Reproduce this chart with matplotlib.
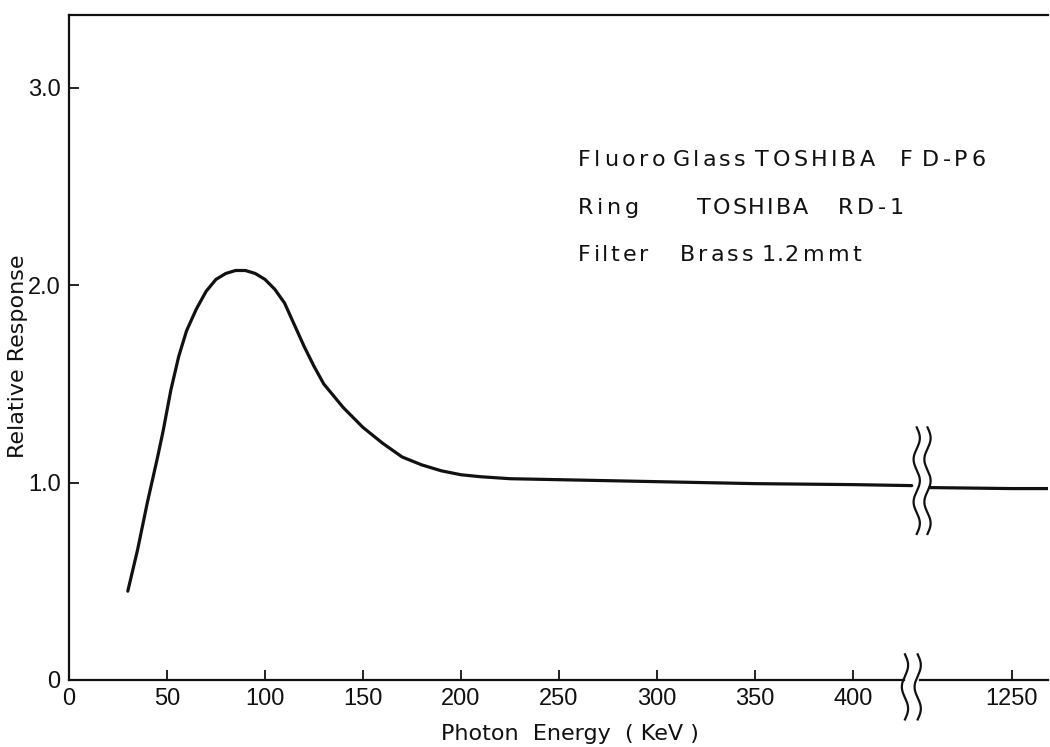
#!/usr/bin/env python

import matplotlib
matplotlib.use('Agg')

import matplotlib.pyplot as plt
import matplotlib.transforms as mtransforms
import numpy as np

########################################
# response curve #
########################################
energy_low = [30, 35, 40, 45, 48, 52, 56, 60, 65, 70, 75, 80, 85, 90, 95,
              100, 105, 110, 115, 120, 125, 130, 140, 150, 160, 170, 180,
              190, 200, 210, 225, 250, 300, 350, 400, 430]
response_low = [0.45, 0.66, 0.90, 1.12, 1.26, 1.47, 1.64, 1.77, 1.88, 1.97,
                2.03, 2.06, 2.075, 2.075, 2.06, 2.03, 1.98, 1.91, 1.80, 1.69,
                1.59, 1.50, 1.38, 1.28, 1.20, 1.13, 1.09, 1.06, 1.04, 1.03,
                1.02, 1.015, 1.005, 0.995, 0.99, 0.985]

# part beyond the axis break
energy_high = [525, 1250, 1571]
response_high = [0.975, 0.97, 0.97]

xticks = [0, 50, 100, 150, 200, 250, 300, 350, 400, 1250]
xticklabels = ['0', '50', '100', '150', '200', '250', '300', '350', '400', '1250']
yticks = [0, 1.0, 2.0, 3.0]
yticklabels = ['0', '1.0', '2.0', '3.0']

# detector description, word by word (lettering is widely spaced)
note_lines = [['Fluoro', 'Glass', 'TOSHIBA', 'F', 'D-P6'],
              ['Ring', 'TOSHIBA', 'RD-1'],
              ['Filter', 'Brass', '1.2', 'mmt']]

#################################################
# broken energy axis: linear up to BREAK, then  #
# the high energies are squeezed in behind it   #
#################################################
BREAK = 434.0
SHRINK = 0.0576

def fwd(e):
    e = np.asarray(e, dtype=float)
    return np.where(e <= BREAK, e, BREAK + (e - BREAK) * SHRINK)

def inv(d):
    d = np.asarray(d, dtype=float)
    return np.where(d <= BREAK, d, BREAK + (d - BREAK) / SHRINK)

W, H = 1050.0, 747.0
fig = plt.figure(figsize=(W / 100, H / 100), dpi=100)
ax = fig.add_axes([0.0657, 0.0897, 0.9323, 0.8903])
ax.set_xscale('function', functions=(fwd, inv))

ink = '#111111'
ax.plot(energy_low, response_low, '-', color=ink, lw=2.3, solid_capstyle='round')
ax.plot(energy_high, response_high, '-', color=ink, lw=2.3, solid_capstyle='round')

ax.set_xlim(0, 1571)
ax.set_ylim(0, 3.37)

#########################
# axes labels and ticks #
#########################
ax.set_xticks(xticks)
ax.set_xticklabels(xticklabels)
ax.set_yticks(yticks)
ax.set_yticklabels(yticklabels)
ax.tick_params(direction='in', length=7, width=1.3, color=ink,
               labelsize=17, labelcolor=ink)
ax.tick_params(axis='x', pad=6)
ax.tick_params(axis='y', pad=6)
for lab in ax.get_xticklabels() + ax.get_yticklabels():
    lab.set_family('Liberation Sans')

ax.spines['right'].set_visible(False)
ax.spines['bottom'].set_visible(False)
for side in ('left', 'top'):
    ax.spines[side].set_linewidth(1.6)
    ax.spines[side].set_color(ink)

# bottom axis line, interrupted at the break
ax.plot([0, 0.853], [0, 0], color=ink, lw=1.6, transform=ax.transAxes, clip_on=False)
ax.plot([0.869, 1], [0, 0], color=ink, lw=1.6, transform=ax.transAxes, clip_on=False)

###################
# break squiggles #
###################
blend = mtransforms.blended_transform_factory(ax.transAxes, ax.transData)

def squiggle(xfrac, y0, y1, waves):
    t = np.linspace(0, 1, 200)
    ax.plot(xfrac + 0.0032 * np.sin(2 * np.pi * waves * t), y0 + (y1 - y0) * t,
            color=ink, lw=1.6, transform=blend, clip_on=False)

for xf in (0.866, 0.877):
    squiggle(xf, 1.28, 0.74, 2.5)
for xf in (0.854, 0.867):
    squiggle(xf, 0.13, -0.20, 1.5)

#########
# texts #
#########
fig.text(0.0175, 0.523, 'Relative Response', rotation=90, ha='center', va='center',
         fontsize=16, family='DejaVu Sans', color=ink)
fig.text(0.543, 0.0175, 'Photon  Energy  ( KeV )', ha='center', va='center',
         fontsize=16, family='DejaVu Sans', color=ink)

renderer = fig.canvas.get_renderer()

def spaced_word(word, x, y, tracking):
    # one glyph at a time, with extra room between letters
    style = dict(ha='left', va='center', fontsize=16, family='DejaVu Sans', color=ink)
    probe = fig.text(0, 0, '', **style)
    for i, ch in enumerate(word):
        probe.set_text(word[:i])
        adv = probe.get_window_extent(renderer).width if i else 0.0
        fig.text((x + adv + i * tracking) / W, 1 - y / H, ch, **style)
    probe.remove()

# word starts and letter spacing in pixels, one row per line of the note
word_x = [[578, 673, 755, 900, 922],
          [578, 697, 838],
          [578, 680, 762, 803]]
word_track = [[3.5, 3.0, 3.5, 0, 3.5],
              [3.5, 2.0, 3.5],
              [3.0, 3.0, 0.5, 3.0]]
line_y = [160, 208, 255]
for words, xs, tr, y in zip(note_lines, word_x, word_track, line_y):
    for word, x, t in zip(words, xs, tr):
        spaced_word(word, x, y, t)

plt.savefig('out.png', dpi=100)
plt.close()
